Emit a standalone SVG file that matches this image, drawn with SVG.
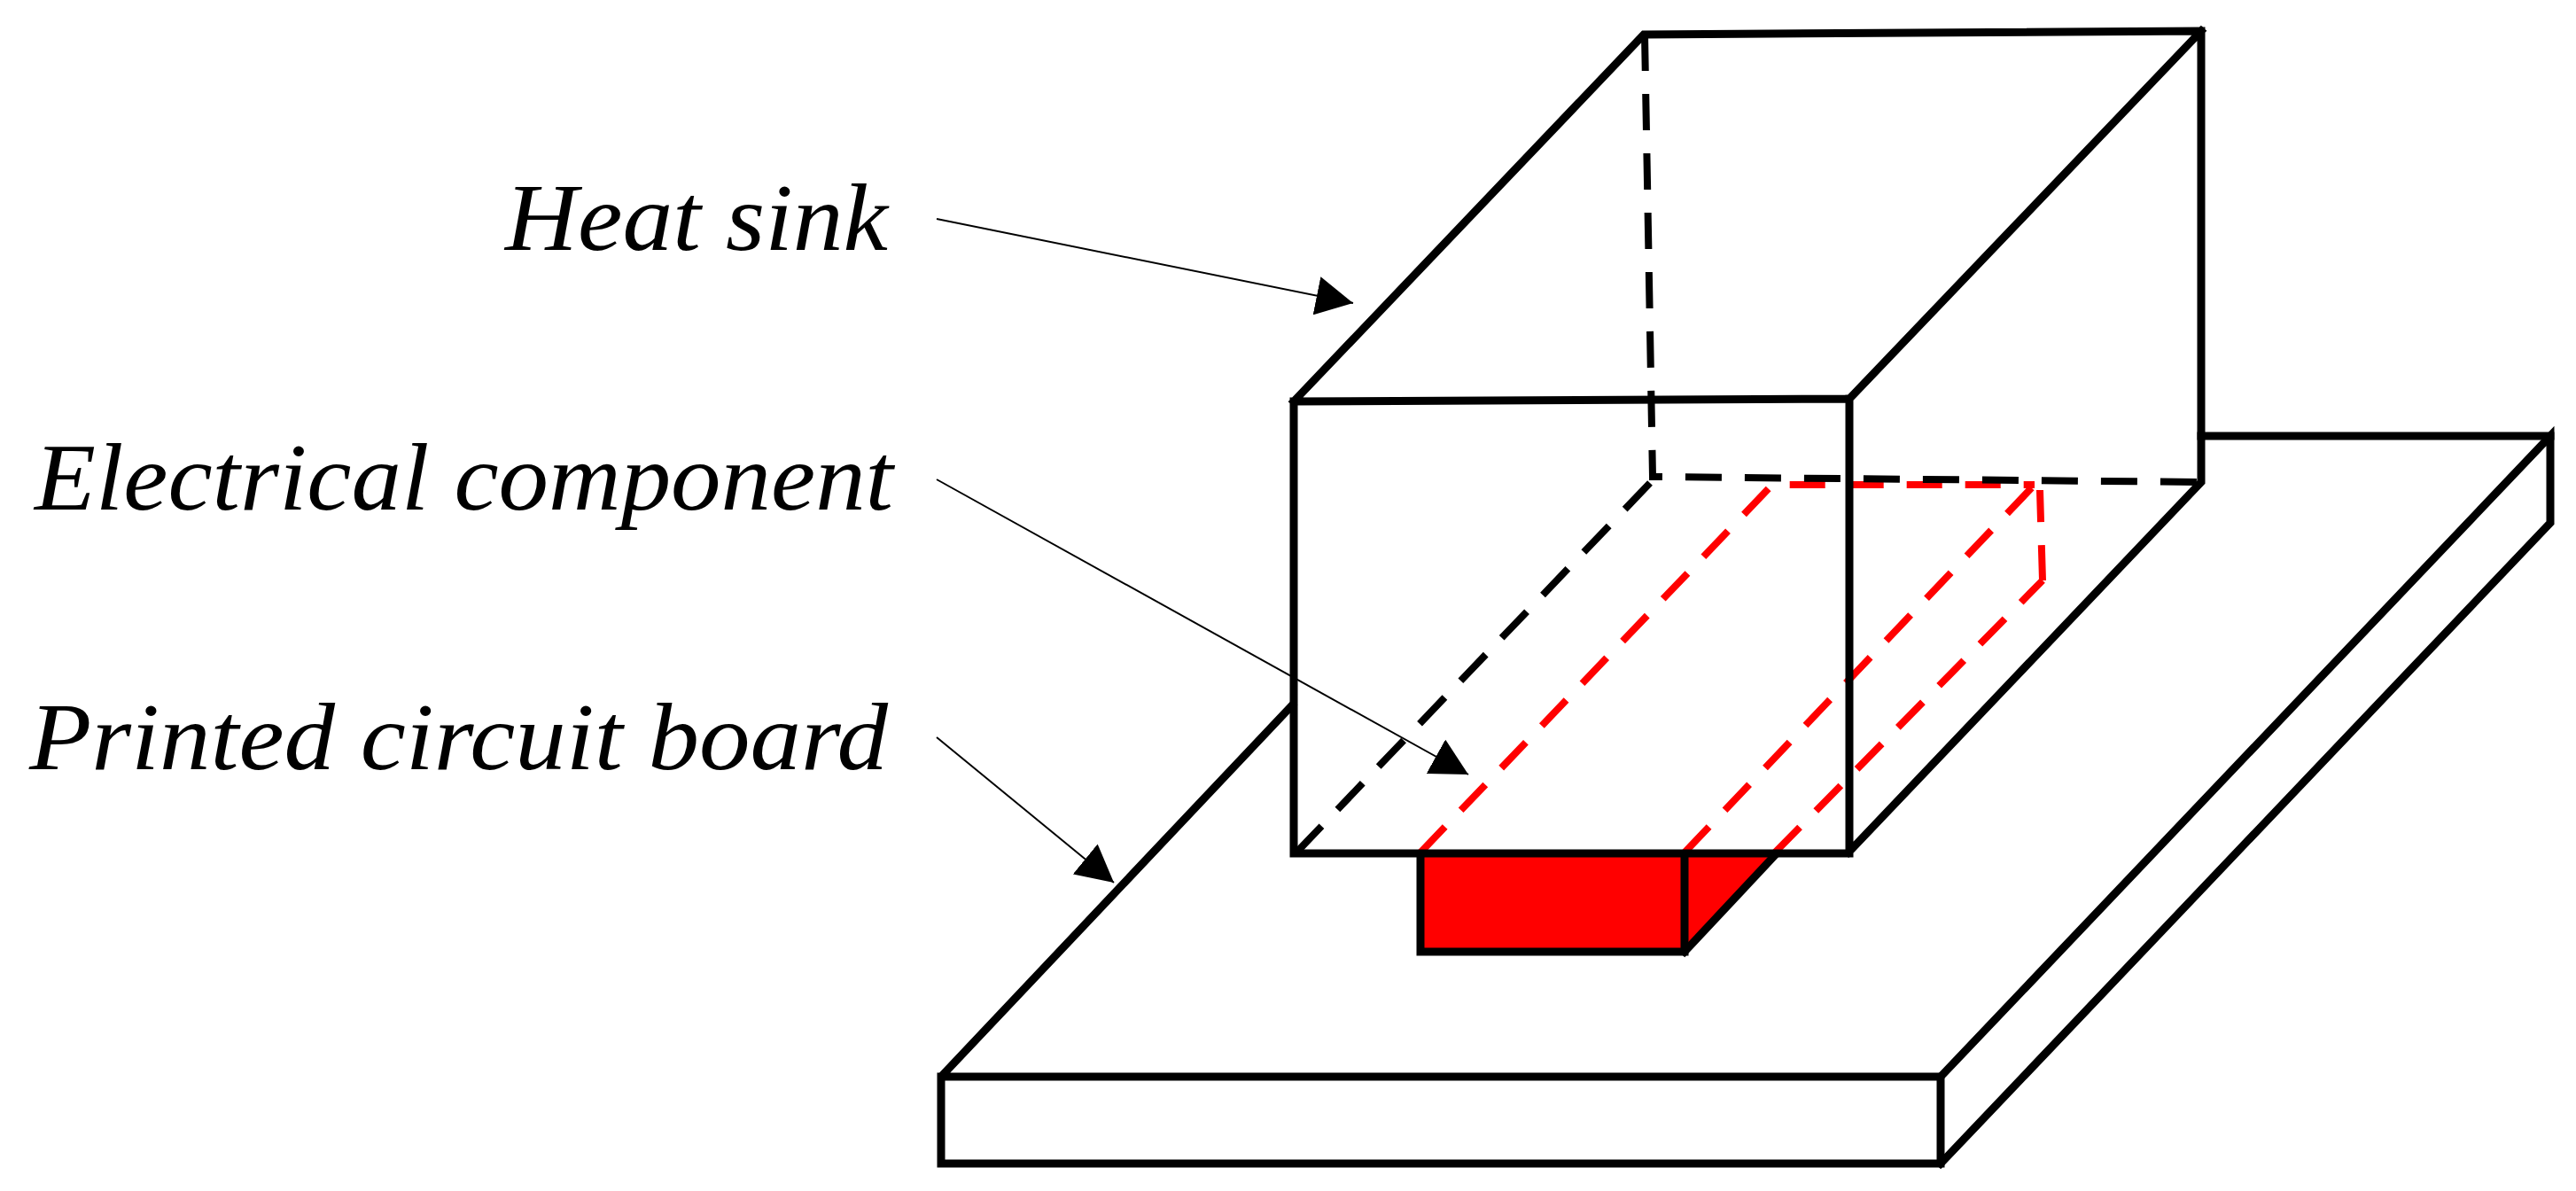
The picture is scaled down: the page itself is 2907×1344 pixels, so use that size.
<svg xmlns="http://www.w3.org/2000/svg" width="2907" height="1344" viewBox="0 0 2907 1344">
<style>
.s{fill:none;stroke:#000;stroke-width:9;stroke-linejoin:miter;stroke-linecap:square}
.d{fill:none;stroke:#000;stroke-width:8;stroke-dasharray:41 26}
.r{fill:none;stroke:#f00;stroke-width:8;stroke-dasharray:40 26}
.l{fill:none;stroke:#000;stroke-width:2}
.t{font-family:"Liberation Serif",serif;font-style:italic;font-size:108px;fill:#000}
</style>
<defs>
<marker id="a" markerUnits="userSpaceOnUse" markerWidth="44" markerHeight="44" refX="38" refY="20" orient="auto" viewBox="0 0 40 40"><path d="M0 0L38 20L0 40Z" fill="#000"/></marker>
</defs>
<rect width="2907" height="1344" fill="#fff"/>
<g id="board">
<path class="s" d="M1458 796L1062 1215V1313H2190V1215H1062"/>
<path class="s" d="M2190 1215L2878 492V590L2190 1313"/>
<path class="s" d="M2484 492H2878"/>
</g>
<g id="component">
<path d="M1603 965H2003L1901 1074H1603Z" fill="#f00"/>
<path class="s" d="M1603 965V1074H1901V965"/>
<path class="s" d="M1901 1074L2003 965"/>
<path class="r" d="M1603 962L2000 547H2296"/>
<path class="r" d="M1901 962L2296 547"/>
<path class="r" d="M2003 962L2305 655"/>
<path class="r" d="M2305 655L2302 553" stroke-dasharray="38 26"/>
</g>
<g id="heat-sink">
<path class="s" d="M1460 453L1855 39L2484 35V544L2086 962M2484 35L2087 450L1460 453V963H2087V450"/>
<path class="d" d="M1856 39L1865 538L2484 544"/>
<path class="d" d="M1862 545L1462 963"/>
</g>
<g id="connectors">
<path class="l" d="M1057 247L1527 342" marker-end="url(#a)"/>
<path class="l" d="M1057 541L1657 874" marker-end="url(#a)"/>
<path class="l" d="M1057 832L1257 996" marker-end="url(#a)"/>
</g>
<g id="labels">
<text class="t" x="570" y="282" textLength="432" lengthAdjust="spacingAndGlyphs">Heat sink</text>
<text class="t" x="39" y="575" textLength="969" lengthAdjust="spacingAndGlyphs">Electrical component</text>
<text class="t" x="33" y="868" textLength="969" lengthAdjust="spacingAndGlyphs">Printed circuit board</text>
</g>
</svg>
